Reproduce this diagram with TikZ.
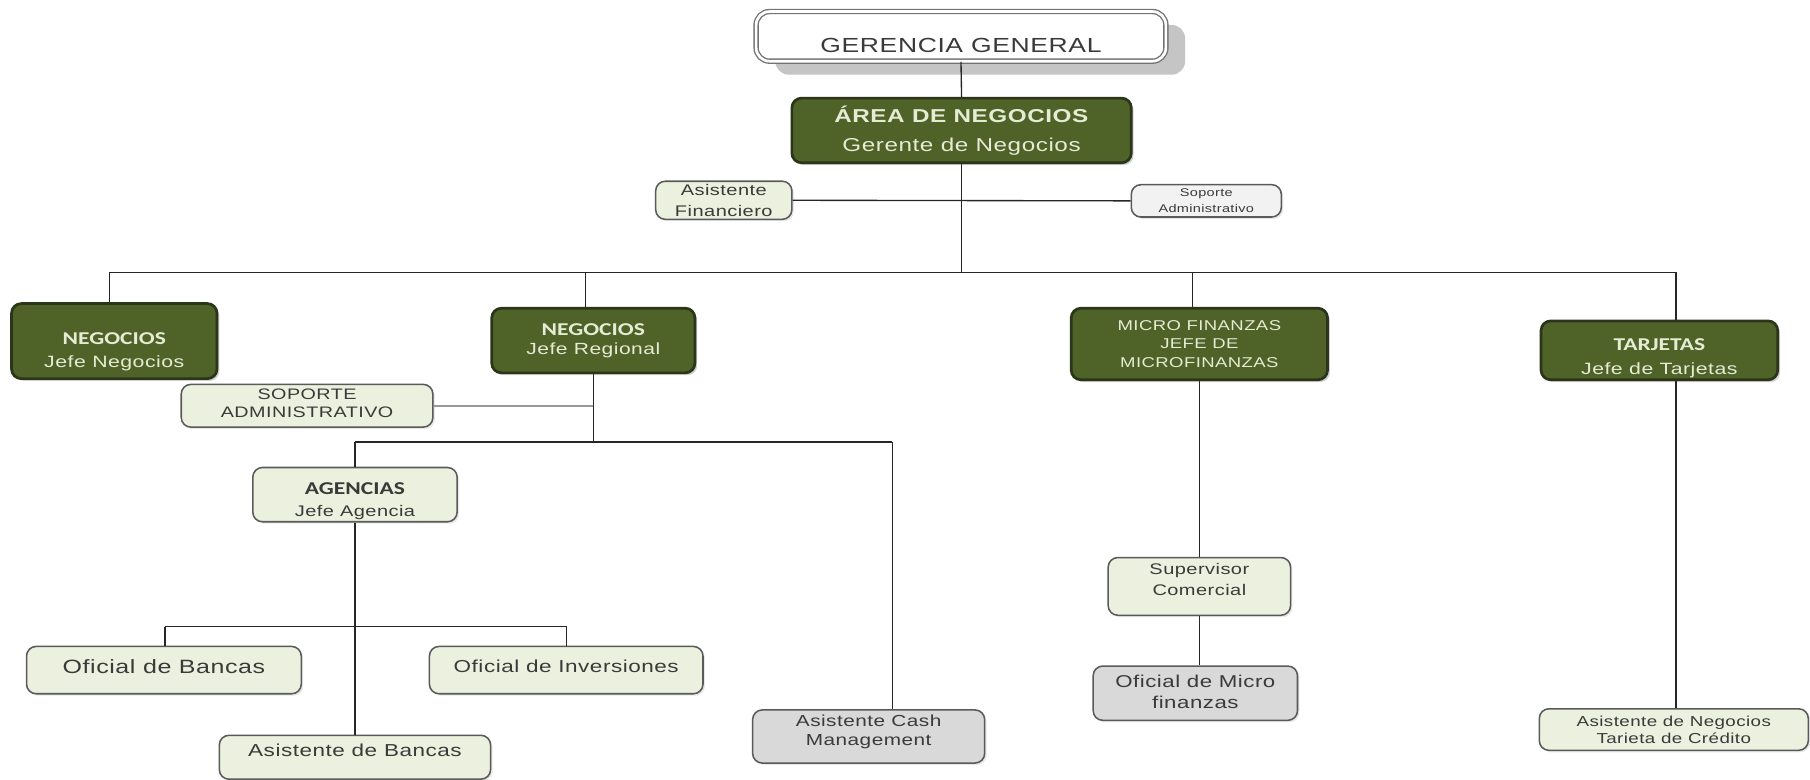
\documentclass[tikz,border=0pt]{standalone}
\usepackage{fontspec}
\setmainfont{Liberation Sans}[FakeStretch=1.3,LetterSpace=3]
\newfontfamily\hdfont{Carlito}[FakeStretch=1.3]
\usetikzlibrary{shadows}
\definecolor{olive}{HTML}{4F6228}
\definecolor{olivedk}{HTML}{2B3519}
\definecolor{lightfill}{HTML}{EBF1DE}
\definecolor{greyfill}{HTML}{D9D9D9}
\definecolor{softfill}{HTML}{F2F2F2}
\definecolor{txtlight}{HTML}{E4ECD4}
\definecolor{txtdark}{HTML}{3A3A3A}
\definecolor{edgegrey}{HTML}{5A5A5A}
\newcommand\hd[1]{{\hdfont\bfseries\fontsize{9.4}{12}\selectfont #1}}
\newcommand\bx[9]{%
  \node[#2,minimum width=#5*0.6pt,minimum height=#6*0.6pt] (#1) at (#3,#4) {};
  \node[#2txt,font=#8] (#1t) at (#3,#4+#7) {#9};}
\tikzset{
  boxbase/.style={rectangle,rounded corners=5pt,inner sep=0pt},
  topbox/.style={boxbase,rounded corners=7pt,fill=white,draw=black!55,line width=0.7pt,double=white,double distance=1.4pt,
     drop shadow={shadow xshift=10pt,shadow yshift=-7pt,fill=black!25,opacity=0.9}},
  topboxtxt/.style={align=center,inner sep=0pt,text=txtdark},
  darkbox/.style={boxbase,fill=olive,draw=olivedk,line width=1.4pt,
     drop shadow={shadow xshift=1.2pt,shadow yshift=-1.2pt,fill=black!30,opacity=0.6}},
  darkboxtxt/.style={align=center,inner sep=0pt,text=txtlight},
  lightbox/.style={boxbase,fill=lightfill,draw=edgegrey,line width=0.8pt,
     drop shadow={shadow xshift=1pt,shadow yshift=-1pt,fill=black!15,opacity=0.6}},
  lightboxtxt/.style={align=center,inner sep=0pt,text=txtdark},
  softbox/.style={lightbox,fill=softfill},
  softboxtxt/.style={lightboxtxt},
  greybox/.style={lightbox,fill=greyfill},
  greyboxtxt/.style={lightboxtxt},
  conn/.style={draw=black!85,line width=0.7pt},
  sopconn/.style={draw=black!40,line width=1.3pt}
}
\begin{document}
\begin{tikzpicture}[x=0.6pt,y=-0.6pt]
\useasboundingbox[fill=white] (0,0) rectangle (1568,675);
% boxes
\bx{gg}{topbox}{832.5}{31.5}{355}{43}{8}{\fontsize{10.6}{13}\selectfont}{GERENCIA GENERAL}
\bx{area}{darkbox}{833}{113}{294}{56}{0}{\fontsize{9.7}{15}\selectfont}{\textbf{ÁREA DE NEGOCIOS}\\Gerente de Negocios}
\bx{asf}{lightbox}{627}{173.5}{118}{33}{0}{\fontsize{8}{11}\selectfont}{Asistente\\Financiero}
\bx{sopa}{softbox}{1045}{174}{130}{28}{0}{\fontsize{5.8}{8.5}\selectfont}{Soporte\\Administrativo}
\bx{neg1}{darkbox}{99}{295.5}{178}{65}{9}{\fontsize{8.5}{12}\selectfont}{\hd{NEGOCIOS}\\Jefe Negocios}
\bx{neg2}{darkbox}{514}{295}{176}{56}{0}{\fontsize{8.4}{10}\selectfont}{\hd{NEGOCIOS}\\Jefe Regional}
\bx{micro}{darkbox}{1039}{298}{222}{62}{0}{\fontsize{7.4}{9.6}\selectfont}{MICRO FINANZAS\\JEFE DE\\MICROFINANZAS}
\bx{tarj}{darkbox}{1437.5}{303.5}{205}{51}{7}{\fontsize{8.5}{12.5}\selectfont}{\hd{TARJETAS}\\Jefe de Tarjetas}
\bx{sopb}{lightbox}{266}{351.5}{218}{37}{-2}{\fontsize{7.9}{9.6}\selectfont}{SOPORTE\\ADMINISTRATIVO}
\bx{agen}{lightbox}{307.5}{428.5}{177}{47}{6}{\fontsize{8}{11.4}\selectfont}{\hd{\textcolor{txtdark}{AGENCIAS}}\\Jefe Agencia}
\bx{ofb}{lightbox}{142}{580.5}{238}{41}{-3}{\fontsize{10}{12}\selectfont}{Oficial de Bancas}
\bx{ofi}{lightbox}{490.5}{580.5}{237}{41}{-3}{\fontsize{9}{12}\selectfont}{Oficial de Inversiones}
\bx{asb}{lightbox}{307.5}{656}{235}{38}{-6}{\fontsize{9}{12}\selectfont}{Asistente de Bancas}
\bx{cash}{greybox}{752.5}{638}{201}{46}{-4}{\fontsize{8.3}{9.4}\selectfont}{Asistente Cash\\Management}
\bx{sup}{lightbox}{1039}{508}{158}{50}{-6}{\fontsize{8}{11.4}\selectfont}{Supervisor\\Comercial}
\bx{ofm}{greybox}{1035.5}{600.5}{177}{47}{-1}{\fontsize{8.9}{10.8}\selectfont}{Oficial de Micro\\finanzas}
\bx{asn}{lightbox}{1450}{632}{233}{36}{0}{\fontsize{7.5}{9}\selectfont}{Asistente de Negocios\\Tarieta de Crédito}
% connectors
\coordinate (bus) at (833,236);
\coordinate (busL) at (95,236);
\coordinate (busR) at (1452,236);
\coordinate (b2) at (507,236);
\coordinate (b3) at (1033,236);
\draw[conn] (gg.south) -- (area.north);
\draw[conn] (area.south) -- (bus);
\draw[conn] (asf.east) -- (sopa.west);
\draw[conn] (busL) -- (busR);
\draw[conn] (busL) -- (busL |- neg1.north);
\draw[conn] (b2) -- (b2 |- neg2.north);
\draw[conn] (b3) -- (b3 |- micro.north);
\draw[conn] (busR) -- (busR |- tarj.north);
\coordinate (r1) at (514,383);
\coordinate (rL) at (307.5,383);
\coordinate (rR) at (773,383);
\draw[sopconn] (sopb.east) -- (sopb.east -| r1);
\draw[conn] (neg2.south) -- (r1);
\draw[conn] (rL) -- (rR);
\draw[conn] (rL) -- (agen.north);
\draw[conn] (rR) -- (rR |- cash.north);
\coordinate (aL) at (143,543);
\coordinate (aR) at (491,543);
\draw[conn] (agen.south) -- (asb.north);
\draw[conn] (aL) -- (aR);
\draw[conn] (aL) -- (aL |- ofb.north);
\draw[conn] (aR) -- (aR |- ofi.north);
\draw[conn] (micro.south) -- (sup.north);
\draw[conn] (sup.south) -- (sup.south |- ofm.north);
\draw[conn] (busR |- tarj.south) -- (busR |- asn.north);
\end{tikzpicture}
\end{document}
